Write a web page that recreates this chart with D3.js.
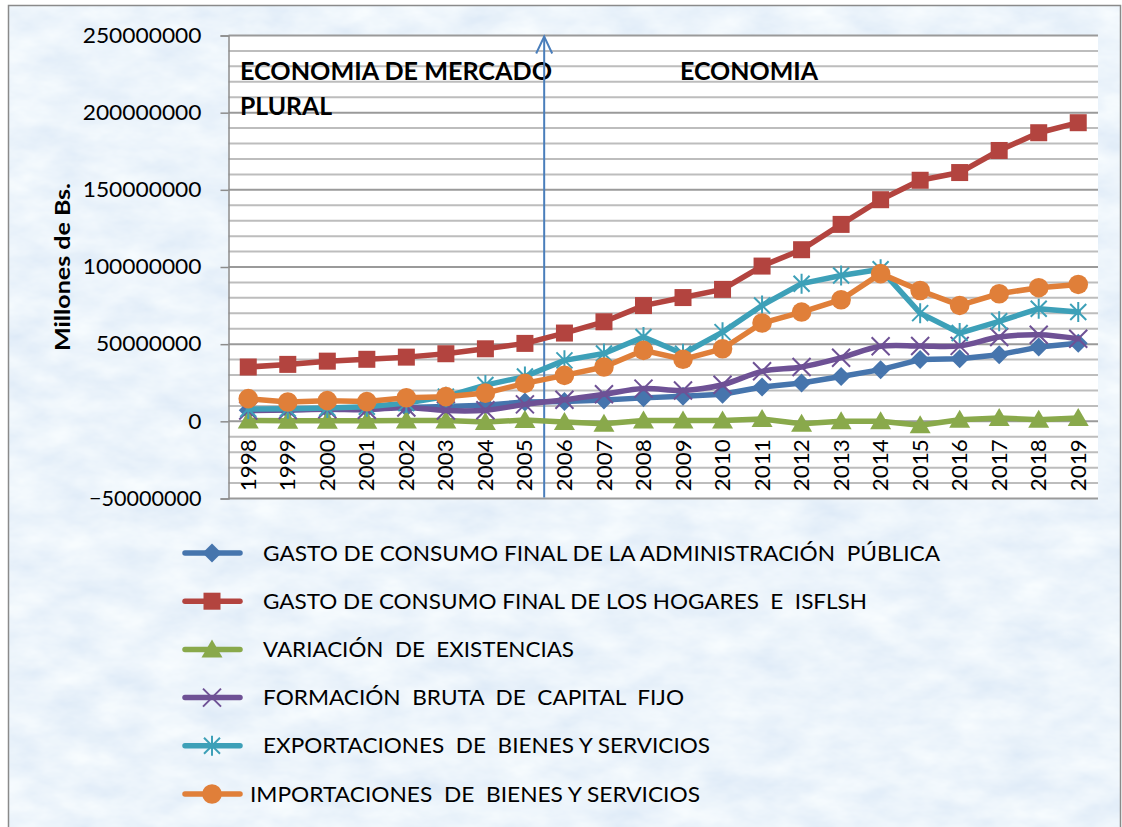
<!DOCTYPE html>
<html><head><meta charset="utf-8">
<script src="https://cdn.jsdelivr.net/npm/d3@7"></script>
<style>
body{margin:0;background:#fff}
svg{display:block}
text{font-family:Lato,"Liberation Sans",sans-serif;fill:#000}
</style>
</head><body>
<svg id="chart" width="1122" height="827"></svg>
<script>
// ---------- DATA ----------
const years = ["1998","1999","2000","2001","2002","2003","2004","2005","2006","2007","2008","2009","2010","2011","2012","2013","2014","2015","2016","2017","2018","2019"];
const gastoPublico   = [7200000,7600000,8000000,8400000,9000000,9600000,10500000,12500000,12800000,13800000,15200000,16200000,17500000,22200000,24800000,29100000,33500000,40000000,40600000,43200000,48100000,50600000];
const gastoHogares   = [35200000,36900000,39000000,40200000,41600000,43800000,47000000,50500000,57200000,64500000,75000000,80200000,85500000,100600000,111200000,127600000,143600000,156200000,161200000,175500000,187000000,193500000];
const variacionExist = [500000,300000,400000,400000,500000,500000,-400000,800000,-500000,-1500000,500000,500000,500000,1500000,-1500000,0,0,-2500000,1000000,2200000,1000000,2200000];
const formacionBruta = [7000000,7300000,7800000,7500000,9000000,7000000,7200000,11000000,14000000,17500000,21200000,20000000,23700000,32400000,35200000,41200000,48600000,48800000,48900000,54600000,56100000,53500000];
const exportaciones  = [8000000,8200000,8600000,9500000,11800000,16000000,23500000,29000000,39500000,44000000,54600000,43800000,57800000,75100000,89200000,94500000,98500000,70100000,57200000,64800000,73000000,70800000];
const importaciones  = [14700000,12500000,13400000,12800000,15300000,16000000,18300000,24600000,29800000,35200000,46000000,40200000,47000000,63700000,70800000,78800000,95700000,84800000,75100000,82700000,86600000,88700000];
const seriesNames = [
  "GASTO DE CONSUMO FINAL DE LA ADMINISTRACIÓN  PÚBLICA",
  "GASTO DE CONSUMO FINAL DE LOS HOGARES  E  ISFLSH",
  "VARIACIÓN  DE  EXISTENCIAS",
  "FORMACIÓN  BRUTA  DE  CAPITAL  FIJO",
  "EXPORTACIONES  DE  BIENES Y SERVICIOS",
  "IMPORTACIONES  DE  BIENES Y SERVICIOS"
];
const seriesValues = [gastoPublico, gastoHogares, variacionExist, formacionBruta, exportaciones, importaciones];
const yTickValues = [-50000000,0,50000000,100000000,150000000,200000000,250000000];
const yAxisTitle = "Millones de Bs.";
const periodLabels = ["ECONOMIA DE MERCADO", "PLURAL", "ECONOMIA"];
const dividerYear = "2005";

// ---------- STYLE / LAYOUT ----------
const colors  = ["#4675ad","#b3443f","#89a94b","#6e5195","#3da0b8","#e07f39"];
const markers = ["diamond","square","triangle","x","star","circle"];
const smooth  = [false,false,false,true,false,false];
const legendTextX = [263,263,263,263,263,250];
const legendTextW = [677,604,311,421,447,450];
const P = {left:228.5, right:1098, top:35.5, bottom:498.5};

const svg = d3.select("#chart");
const defs = svg.append("defs");
const f = defs.append("filter").attr("id","paper").attr("x",0).attr("y",0).attr("width",1).attr("height",1);
f.append("feTurbulence").attr("type","fractalNoise").attr("baseFrequency","0.02 0.04").attr("numOctaves",4).attr("seed",7).attr("result","n");
f.append("feColorMatrix").attr("in","n").attr("type","matrix")
 .attr("values","0.26 0 0 0 0.71  0.19 0 0 0 0.81  0.08 0 0 0 0.925  0 0 0 0 1");

// background
svg.append("rect").attr("x",8).attr("y",5).attr("width",1112).attr("height",822).attr("fill","#d6e6f6").attr("filter","url(#paper)");
svg.append("rect").attr("x",8.5).attr("y",5.5).attr("width",1112).attr("height",824).attr("fill","none").attr("stroke","#8a8a8a").attr("stroke-width",1.5);

// scales
const x = d3.scaleBand().domain(years).range([P.left, P.right]).paddingInner(0).paddingOuter(0);
const xc = d => x(d) + x.bandwidth()/2;
const y = d3.scaleLinear().domain([-50000000, 250000000]).range([P.bottom, P.top]);

// plot area
svg.append("rect").attr("x",P.left).attr("y",P.top).attr("width",P.right-P.left).attr("height",P.bottom-P.top).attr("fill","#fff");

// gridlines
const minor = d3.range(-50000000, 250000001, 10000000);
svg.append("g").selectAll("line").data(minor).join("line")
  .attr("x1",P.left).attr("x2",P.right)
  .attr("y1",d=>y(d)).attr("y2",d=>y(d))
  .attr("stroke",d=> d%50000000===0 ? "#9a9a9a" : "#bdbdbd")
  .attr("stroke-width",2);

// y axis
const yAxis = d3.axisLeft(y).tickValues(yTickValues).tickSize(8).tickPadding(19).tickFormat(d3.format("d"));
const gy = svg.append("g").attr("transform",`translate(${P.left},0)`).call(yAxis);
gy.select(".domain").attr("stroke","#8c8c8c").attr("stroke-width",1.5);
gy.selectAll(".tick line").attr("stroke","#8c8c8c").attr("stroke-width",1.5);
gy.selectAll(".tick text").attr("font-size",21).attr("font-family","Lato,'Liberation Sans',sans-serif").attr("fill","#000")
  .attr("textLength",d=>{const s=String(d);return s.replace("-","").length*13.2+(d<0?7:0);})
  .attr("lengthAdjust","spacingAndGlyphs");

// x labels (category axis at 0)
const xAxis = d3.axisBottom(x).tickSize(0).tickPadding(0);
const gx = svg.append("g").attr("transform",`translate(0,${y(0)})`).call(xAxis);
gx.select(".domain").remove();
gx.selectAll(".tick text")
  .attr("font-size",21).attr("font-family","Lato,'Liberation Sans',sans-serif").attr("fill","#000")
  .attr("text-anchor","end").attr("transform","translate(0,18) rotate(-90)")
  .attr("x",0).attr("y",0).attr("dy","0.36em")
  .attr("textLength",52).attr("lengthAdjust","spacingAndGlyphs");

// y axis title
svg.append("text").attr("transform","translate(70,267) rotate(-90)")
  .attr("text-anchor","middle").attr("font-size",21).attr("font-weight","bold")
  .attr("textLength",168).attr("lengthAdjust","spacingAndGlyphs").text(yAxisTitle);

// period labels
svg.append("text").attr("x",240).attr("y",80).attr("font-size",25).attr("font-weight","bold")
  .attr("textLength",312).attr("lengthAdjust","spacingAndGlyphs").text(periodLabels[0]);
svg.append("text").attr("x",240).attr("y",115).attr("font-size",25).attr("font-weight","bold")
  .attr("textLength",92).attr("lengthAdjust","spacingAndGlyphs").text(periodLabels[1]);
svg.append("text").attr("x",680).attr("y",80).attr("font-size",25).attr("font-weight","bold")
  .attr("textLength",138).attr("lengthAdjust","spacingAndGlyphs").text(periodLabels[2]);

// divider arrow
const ax = x(dividerYear) + x.bandwidth() - 0.5;
svg.append("line").attr("x1",ax).attr("x2",ax).attr("y1",P.bottom-1).attr("y2",P.top+1)
  .attr("stroke","#4a7ebb").attr("stroke-width",2);
svg.append("path").attr("d",`M${ax-8},${P.top+18} L${ax},${P.top+1} L${ax+8},${P.top+18}`)
  .attr("fill","none").attr("stroke","#4a7ebb").attr("stroke-width",2);

// marker drawing
function drawMarker(g, type, cx, cy, color){
  switch(type){
    case "diamond":
      g.append("path").attr("d",`M${cx},${cy-9.5}L${cx+9.5},${cy}L${cx},${cy+9.5}L${cx-9.5},${cy}Z`).attr("fill",color); break;
    case "square":
      g.append("rect").attr("x",cx-8.5).attr("y",cy-8.5).attr("width",17).attr("height",17).attr("fill",color); break;
    case "triangle":
      g.append("path").attr("d",`M${cx},${cy-10}L${cx+10.5},${cy+8}L${cx-10.5},${cy+8}Z`).attr("fill",color); break;
    case "x":
      g.append("path").attr("d",`M${cx-9},${cy-9}L${cx+9},${cy+9}M${cx+9},${cy-9}L${cx-9},${cy+9}`).attr("stroke",color).attr("stroke-width",2).attr("fill","none"); break;
    case "star":
      g.append("path").attr("d",`M${cx-8},${cy-8}L${cx+8},${cy+8}M${cx+8},${cy-8}L${cx-8},${cy+8}M${cx},${cy-10}L${cx},${cy+10}`).attr("stroke",color).attr("stroke-width",2).attr("fill","none"); break;
    case "circle":
      g.append("circle").attr("cx",cx).attr("cy",cy).attr("r",9.8).attr("fill",color); break;
  }
}

// series
seriesValues.forEach((vals,i)=>{
  const g = svg.append("g");
  const line = d3.line().x((d,j)=>xc(years[j])).y(d=>y(d));
  if(smooth[i]) line.curve(d3.curveCatmullRom.alpha(0.5));
  g.append("path").attr("d",line(vals)).attr("fill","none").attr("stroke",colors[i])
   .attr("stroke-width",5.5).attr("stroke-linejoin","round").attr("stroke-linecap","round");
  vals.forEach((v,j)=>drawMarker(g, markers[i], xc(years[j]), y(v), colors[i]));
});

// legend
const legendY = seriesNames.map((d,i)=>553 + i*48.2);
seriesNames.forEach((name,i)=>{
  const g = svg.append("g");
  const ly = legendY[i];
  g.append("line").attr("x1",185).attr("x2",240).attr("y1",ly).attr("y2",ly)
   .attr("stroke",colors[i]).attr("stroke-width",5.5).attr("stroke-linecap","round");
  drawMarker(g, markers[i], 212, ly, colors[i]);
  g.append("text").attr("x",legendTextX[i]).attr("y",ly).attr("dy","0.36em")
   .attr("font-size",21).style("white-space","pre")
   .attr("textLength",legendTextW[i]).attr("lengthAdjust","spacingAndGlyphs").text(name);
});
</script>
</body></html>
